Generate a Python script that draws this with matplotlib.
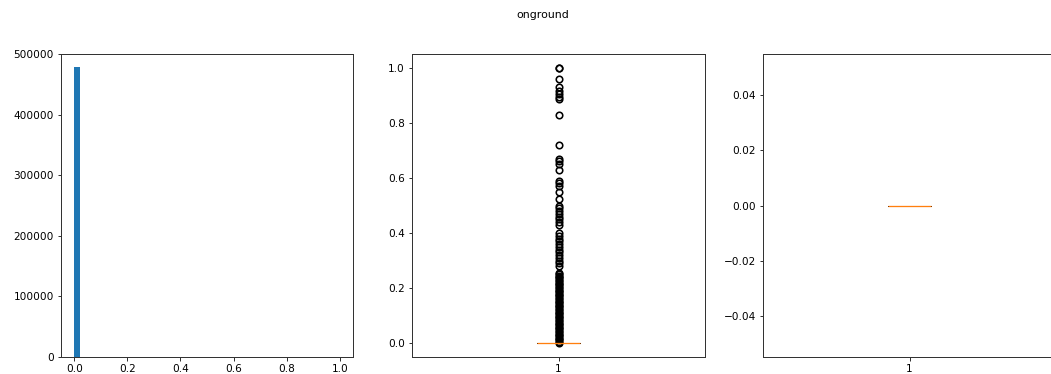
import matplotlib
matplotlib.use("Agg")
import matplotlib.pyplot as plt
import numpy as np

title = "onground"

# Histogram (50 bins on [0, 1])
hist_edges = list(np.linspace(0.0, 1.0, 51))
hist_counts = [478000, 180, 60, 40, 25, 20, 15, 12, 10, 10,
               40, 6, 25, 4, 3, 2, 15, 8, 3, 2,
               20, 4, 8, 6, 10, 30, 2, 2, 8, 5,
               3, 2, 4, 10, 2, 2, 1, 1, 1, 1,
               1, 3, 1, 1, 2, 3, 1, 0, 1, 40]

# Box plot with outliers
box_median = 0.0
box_q1 = 0.0
box_q3 = 0.0
box_whislo = 0.0
box_whishi = 0.0
flier_values = [1.0, 1.0, 0.96, 0.93, 0.915, 0.905, 0.895, 0.885, 0.83, 0.72,
                0.667, 0.66, 0.65, 0.63, 0.59, 0.58, 0.57, 0.55, 0.525, 0.50,
                0.49, 0.48, 0.47, 0.46, 0.45, 0.44, 0.43, 0.40, 0.39, 0.38,
                0.37, 0.36, 0.35, 0.34, 0.333, 0.32, 0.31, 0.30, 0.29, 0.28,
                0.255, 0.25, 0.245, 0.24, 0.235, 0.23, 0.225, 0.22, 0.215, 0.21,
                0.205, 0.20, 0.195, 0.19, 0.185, 0.18, 0.175, 0.17, 0.165, 0.16,
                0.155, 0.15, 0.145, 0.14, 0.135, 0.13, 0.125, 0.12, 0.115, 0.11,
                0.105, 0.10, 0.095, 0.09, 0.085, 0.08, 0.075, 0.07, 0.065, 0.06,
                0.055, 0.05, 0.045, 0.04, 0.035, 0.03, 0.025, 0.02, 0.015, 0.01,
                0.005, 0.002]

# Box plot without outliers (all zeros)
box2_median = 0.0

W, H = 1051, 374
DPI = 72
fig = plt.figure(figsize=(W / DPI, H / DPI), dpi=DPI)
plt.rcParams['font.size'] = 10.5

def rect(l, r, t, b):
    return [l / W, 1 - b / H, (r - l) / W, (b - t) / H]

ax1 = fig.add_axes(rect(61, 353, 54, 357))
ax2 = fig.add_axes(rect(412, 705, 54, 357))
ax3 = fig.add_axes(rect(763, 1056, 54, 357))

centers = [(hist_edges[i] + hist_edges[i + 1]) / 2 for i in range(len(hist_counts))]
ax1.hist(centers, bins=hist_edges, weights=hist_counts, color="#1f77b4")
ax1.set_ylim(0, 500000)
ax1.set_yticks([0, 100000, 200000, 300000, 400000, 500000])

flierprops = dict(marker="o", markersize=6.5, markeredgewidth=1.6,
                  markerfacecolor="none", markeredgecolor="black")
medianprops = dict(color="#ff7f0e", linewidth=1.3)

stats1 = [dict(med=box_median, q1=box_q1, q3=box_q3, whislo=box_whislo,
               whishi=box_whishi, fliers=np.array(flier_values), label="1")]
ax2.bxp(stats1, widths=0.15, flierprops=flierprops, medianprops=medianprops)

stats2 = [dict(med=box2_median, q1=box2_median, q3=box2_median,
               whislo=box2_median, whishi=box2_median, fliers=np.array([]), label="1")]
ax3.bxp(stats2, widths=0.15, showfliers=False, medianprops=medianprops)

for ax in (ax1, ax2, ax3):
    ax.tick_params(labelsize=10.5)
    for s in ax.spines.values():
        s.set_linewidth(1.0)
        s.set_color("#333333")

fig.suptitle(title, x=543 / W, y=1 - 15 / H, va="center", fontsize=11)

fig.savefig("out.png", dpi=DPI)
